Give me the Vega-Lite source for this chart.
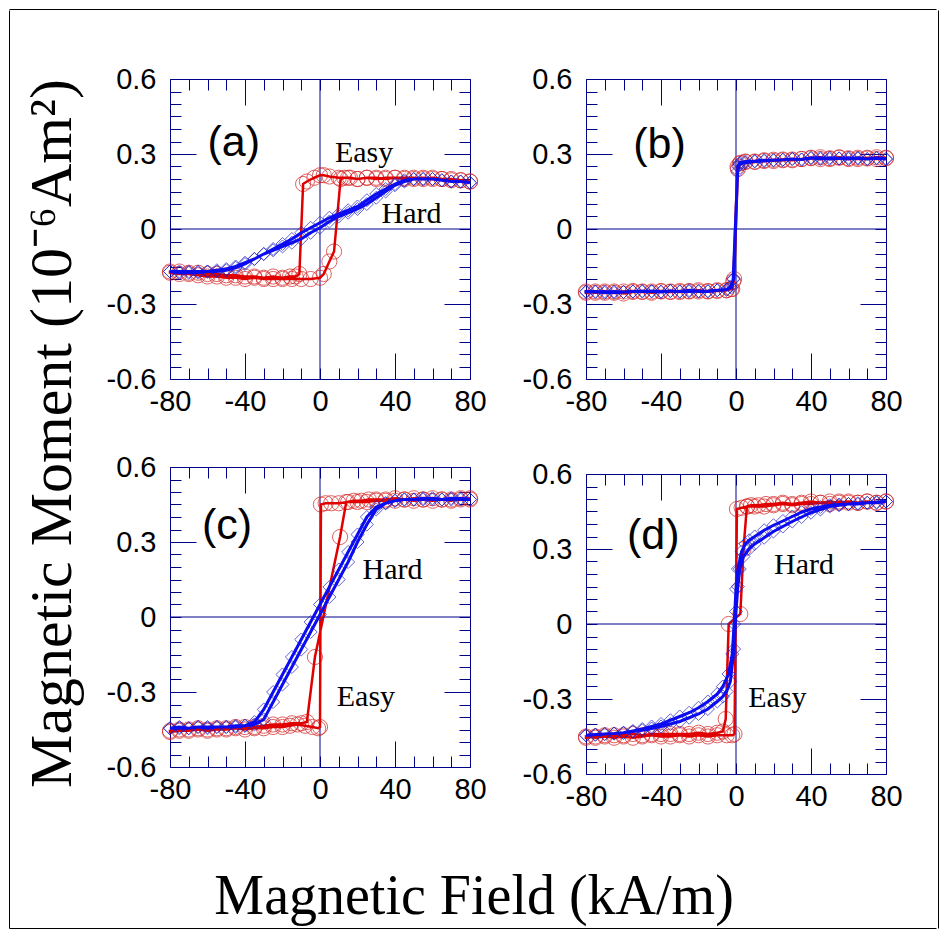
{
"$schema": "https://vega.github.io/schema/vega-lite/v6.json",
"background": "white",
"padding": {"left": 9, "top": 9, "right": 9, "bottom": 9},
"autosize": {"type": "pad"},
"config": {"view": {"stroke": "#000088", "strokeWidth": 1}, "axis": {"grid": false}},
"datasets": {
"pts": [
{"p":"a","s":"E","i":1,"H":80,"M":0.19},{"p":"a","s":"E","i":2,"H":75,"M":0.195},{"p":"a","s":"E","i":3,"H":70,"M":0.2},{"p":"a","s":"E","i":4,"H":65,"M":0.2},{"p":"a","s":"E","i":5,"H":60,"M":0.205},{"p":"a","s":"E","i":6,"H":55,"M":0.2},{"p":"a","s":"E","i":7,"H":50,"M":0.205},{"p":"a","s":"E","i":8,"H":45,"M":0.205},{"p":"a","s":"E","i":9,"H":40,"M":0.205},{"p":"a","s":"E","i":10,"H":35,"M":0.2},{"p":"a","s":"E","i":11,"H":30,"M":0.205},{"p":"a","s":"E","i":12,"H":25,"M":0.205},{"p":"a","s":"E","i":13,"H":20,"M":0.2},{"p":"a","s":"E","i":14,"H":15,"M":0.205},{"p":"a","s":"E","i":15,"H":10,"M":0.205},{"p":"a","s":"E","i":16,"H":5,"M":0.21},{"p":"a","s":"E","i":17,"H":2,"M":0.215},{"p":"a","s":"E","i":18,"H":0,"M":0.215},{"p":"a","s":"E","i":19,"H":-3,"M":0.205},{"p":"a","s":"E","i":20,"H":-7,"M":0.19},{"p":"a","s":"E","i":21,"H":-9,"M":0.18},{"p":"a","s":"E","i":22,"H":-11,"M":-0.18},{"p":"a","s":"E","i":23,"H":-13,"M":-0.19},{"p":"a","s":"E","i":24,"H":-16,"M":-0.19},{"p":"a","s":"E","i":25,"H":-20,"M":-0.195},{"p":"a","s":"E","i":26,"H":-25,"M":-0.19},{"p":"a","s":"E","i":27,"H":-30,"M":-0.195},{"p":"a","s":"E","i":28,"H":-35,"M":-0.19},{"p":"a","s":"E","i":29,"H":-40,"M":-0.19},{"p":"a","s":"E","i":30,"H":-45,"M":-0.185},{"p":"a","s":"E","i":31,"H":-50,"M":-0.185},{"p":"a","s":"E","i":32,"H":-55,"M":-0.18},{"p":"a","s":"E","i":33,"H":-60,"M":-0.18},{"p":"a","s":"E","i":34,"H":-65,"M":-0.175},{"p":"a","s":"E","i":35,"H":-70,"M":-0.175},{"p":"a","s":"E","i":36,"H":-75,"M":-0.17},{"p":"a","s":"E","i":37,"H":-80,"M":-0.17},
{"p":"a","s":"E","i":101,"H":-80,"M":-0.175},{"p":"a","s":"E","i":102,"H":-75,"M":-0.18},{"p":"a","s":"E","i":103,"H":-70,"M":-0.18},{"p":"a","s":"E","i":104,"H":-65,"M":-0.185},{"p":"a","s":"E","i":105,"H":-60,"M":-0.19},{"p":"a","s":"E","i":106,"H":-55,"M":-0.19},{"p":"a","s":"E","i":107,"H":-50,"M":-0.195},{"p":"a","s":"E","i":108,"H":-45,"M":-0.195},{"p":"a","s":"E","i":109,"H":-40,"M":-0.2},{"p":"a","s":"E","i":110,"H":-35,"M":-0.195},{"p":"a","s":"E","i":111,"H":-30,"M":-0.2},{"p":"a","s":"E","i":112,"H":-25,"M":-0.2},{"p":"a","s":"E","i":113,"H":-20,"M":-0.2},{"p":"a","s":"E","i":114,"H":-15,"M":-0.2},{"p":"a","s":"E","i":115,"H":-10,"M":-0.2},{"p":"a","s":"E","i":116,"H":-5,"M":-0.2},{"p":"a","s":"E","i":117,"H":0,"M":-0.195},{"p":"a","s":"E","i":118,"H":2,"M":-0.18},{"p":"a","s":"E","i":119,"H":5,"M":-0.13},{"p":"a","s":"E","i":120,"H":7.5,"M":-0.09},{"p":"a","s":"E","i":121,"H":11,"M":0.2},{"p":"a","s":"E","i":122,"H":13,"M":0.205},{"p":"a","s":"E","i":123,"H":16,"M":0.205},{"p":"a","s":"E","i":124,"H":20,"M":0.2},{"p":"a","s":"E","i":125,"H":25,"M":0.205},{"p":"a","s":"E","i":126,"H":30,"M":0.2},{"p":"a","s":"E","i":127,"H":35,"M":0.205},{"p":"a","s":"E","i":128,"H":40,"M":0.205},{"p":"a","s":"E","i":129,"H":45,"M":0.2},{"p":"a","s":"E","i":130,"H":50,"M":0.2},{"p":"a","s":"E","i":131,"H":55,"M":0.205},{"p":"a","s":"E","i":132,"H":60,"M":0.2},{"p":"a","s":"E","i":133,"H":65,"M":0.2},{"p":"a","s":"E","i":134,"H":70,"M":0.195},{"p":"a","s":"E","i":135,"H":75,"M":0.195},{"p":"a","s":"E","i":136,"H":80,"M":0.19},
{"p":"a","s":"R","i":1,"H":80,"M":0.185},{"p":"a","s":"R","i":2,"H":75,"M":0.19},{"p":"a","s":"R","i":3,"H":70,"M":0.19},{"p":"a","s":"R","i":4,"H":65,"M":0.195},{"p":"a","s":"R","i":5,"H":60,"M":0.2},{"p":"a","s":"R","i":6,"H":55,"M":0.2},{"p":"a","s":"R","i":7,"H":50,"M":0.2},{"p":"a","s":"R","i":8,"H":45,"M":0.195},{"p":"a","s":"R","i":9,"H":40,"M":0.18},{"p":"a","s":"R","i":10,"H":35,"M":0.16},{"p":"a","s":"R","i":11,"H":30,"M":0.14},{"p":"a","s":"R","i":12,"H":25,"M":0.115},{"p":"a","s":"R","i":13,"H":20,"M":0.09},{"p":"a","s":"R","i":14,"H":15,"M":0.075},{"p":"a","s":"R","i":15,"H":10,"M":0.06},{"p":"a","s":"R","i":16,"H":5,"M":0.045},{"p":"a","s":"R","i":17,"H":0,"M":0.025},{"p":"a","s":"R","i":18,"H":-5,"M":0.005},{"p":"a","s":"R","i":19,"H":-10,"M":-0.015},{"p":"a","s":"R","i":20,"H":-15,"M":-0.04},{"p":"a","s":"R","i":21,"H":-20,"M":-0.06},{"p":"a","s":"R","i":22,"H":-25,"M":-0.08},{"p":"a","s":"R","i":23,"H":-30,"M":-0.1},{"p":"a","s":"R","i":24,"H":-35,"M":-0.12},{"p":"a","s":"R","i":25,"H":-40,"M":-0.14},{"p":"a","s":"R","i":26,"H":-45,"M":-0.155},{"p":"a","s":"R","i":27,"H":-50,"M":-0.165},{"p":"a","s":"R","i":28,"H":-55,"M":-0.17},{"p":"a","s":"R","i":29,"H":-60,"M":-0.17},{"p":"a","s":"R","i":30,"H":-65,"M":-0.17},{"p":"a","s":"R","i":31,"H":-70,"M":-0.17},{"p":"a","s":"R","i":32,"H":-75,"M":-0.17},{"p":"a","s":"R","i":33,"H":-80,"M":-0.17},
{"p":"a","s":"R","i":101,"H":-80,"M":-0.17},{"p":"a","s":"R","i":102,"H":-75,"M":-0.175},{"p":"a","s":"R","i":103,"H":-70,"M":-0.175},{"p":"a","s":"R","i":104,"H":-65,"M":-0.175},{"p":"a","s":"R","i":105,"H":-60,"M":-0.17},{"p":"a","s":"R","i":106,"H":-55,"M":-0.165},{"p":"a","s":"R","i":107,"H":-50,"M":-0.16},{"p":"a","s":"R","i":108,"H":-45,"M":-0.15},{"p":"a","s":"R","i":109,"H":-40,"M":-0.135},{"p":"a","s":"R","i":110,"H":-35,"M":-0.12},{"p":"a","s":"R","i":111,"H":-30,"M":-0.1},{"p":"a","s":"R","i":112,"H":-25,"M":-0.085},{"p":"a","s":"R","i":113,"H":-20,"M":-0.07},{"p":"a","s":"R","i":114,"H":-15,"M":-0.055},{"p":"a","s":"R","i":115,"H":-10,"M":-0.04},{"p":"a","s":"R","i":116,"H":-5,"M":-0.015},{"p":"a","s":"R","i":117,"H":0,"M":0.005},{"p":"a","s":"R","i":118,"H":5,"M":0.03},{"p":"a","s":"R","i":119,"H":10,"M":0.05},{"p":"a","s":"R","i":120,"H":15,"M":0.065},{"p":"a","s":"R","i":121,"H":20,"M":0.08},{"p":"a","s":"R","i":122,"H":25,"M":0.1},{"p":"a","s":"R","i":123,"H":30,"M":0.125},{"p":"a","s":"R","i":124,"H":35,"M":0.15},{"p":"a","s":"R","i":125,"H":40,"M":0.175},{"p":"a","s":"R","i":126,"H":45,"M":0.19},{"p":"a","s":"R","i":127,"H":50,"M":0.2},{"p":"a","s":"R","i":128,"H":55,"M":0.2},{"p":"a","s":"R","i":129,"H":60,"M":0.2},{"p":"a","s":"R","i":130,"H":65,"M":0.195},{"p":"a","s":"R","i":131,"H":70,"M":0.19},{"p":"a","s":"R","i":132,"H":75,"M":0.19},{"p":"a","s":"R","i":133,"H":80,"M":0.185},
{"p":"b","s":"E","i":1,"H":80,"M":0.283},{"p":"b","s":"E","i":2,"H":75,"M":0.28},{"p":"b","s":"E","i":3,"H":70,"M":0.285},{"p":"b","s":"E","i":4,"H":65,"M":0.28},{"p":"b","s":"E","i":5,"H":60,"M":0.283},{"p":"b","s":"E","i":6,"H":55,"M":0.285},{"p":"b","s":"E","i":7,"H":50,"M":0.28},{"p":"b","s":"E","i":8,"H":45,"M":0.287},{"p":"b","s":"E","i":9,"H":40,"M":0.283},{"p":"b","s":"E","i":10,"H":35,"M":0.28},{"p":"b","s":"E","i":11,"H":30,"M":0.278},{"p":"b","s":"E","i":12,"H":25,"M":0.275},{"p":"b","s":"E","i":13,"H":20,"M":0.277},{"p":"b","s":"E","i":14,"H":15,"M":0.272},{"p":"b","s":"E","i":15,"H":10,"M":0.27},{"p":"b","s":"E","i":16,"H":5,"M":0.268},{"p":"b","s":"E","i":17,"H":2,"M":0.262},{"p":"b","s":"E","i":18,"H":0.8,"M":0.25},{"p":"b","s":"E","i":19,"H":-1.5,"M":-0.21},{"p":"b","s":"E","i":20,"H":-2.5,"M":-0.24},{"p":"b","s":"E","i":21,"H":-5,"M":-0.245},{"p":"b","s":"E","i":22,"H":-10,"M":-0.248},{"p":"b","s":"E","i":23,"H":-15,"M":-0.25},{"p":"b","s":"E","i":24,"H":-20,"M":-0.245},{"p":"b","s":"E","i":25,"H":-25,"M":-0.25},{"p":"b","s":"E","i":26,"H":-30,"M":-0.248},{"p":"b","s":"E","i":27,"H":-35,"M":-0.252},{"p":"b","s":"E","i":28,"H":-40,"M":-0.25},{"p":"b","s":"E","i":29,"H":-45,"M":-0.255},{"p":"b","s":"E","i":30,"H":-50,"M":-0.25},{"p":"b","s":"E","i":31,"H":-55,"M":-0.252},{"p":"b","s":"E","i":32,"H":-60,"M":-0.258},{"p":"b","s":"E","i":33,"H":-65,"M":-0.25},{"p":"b","s":"E","i":34,"H":-70,"M":-0.255},{"p":"b","s":"E","i":35,"H":-75,"M":-0.25},{"p":"b","s":"E","i":36,"H":-80,"M":-0.255},
{"p":"b","s":"E","i":101,"H":-80,"M":-0.25},{"p":"b","s":"E","i":102,"H":-75,"M":-0.255},{"p":"b","s":"E","i":103,"H":-70,"M":-0.25},{"p":"b","s":"E","i":104,"H":-65,"M":-0.255},{"p":"b","s":"E","i":105,"H":-60,"M":-0.25},{"p":"b","s":"E","i":106,"H":-55,"M":-0.248},{"p":"b","s":"E","i":107,"H":-50,"M":-0.252},{"p":"b","s":"E","i":108,"H":-45,"M":-0.25},{"p":"b","s":"E","i":109,"H":-40,"M":-0.248},{"p":"b","s":"E","i":110,"H":-35,"M":-0.25},{"p":"b","s":"E","i":111,"H":-30,"M":-0.252},{"p":"b","s":"E","i":112,"H":-25,"M":-0.248},{"p":"b","s":"E","i":113,"H":-20,"M":-0.25},{"p":"b","s":"E","i":114,"H":-15,"M":-0.248},{"p":"b","s":"E","i":115,"H":-10,"M":-0.245},{"p":"b","s":"E","i":116,"H":-5,"M":-0.245},{"p":"b","s":"E","i":117,"H":-2,"M":-0.24},{"p":"b","s":"E","i":118,"H":-1,"M":-0.2},{"p":"b","s":"E","i":119,"H":1,"M":0.24},{"p":"b","s":"E","i":120,"H":2.5,"M":0.265},{"p":"b","s":"E","i":121,"H":5,"M":0.27},{"p":"b","s":"E","i":122,"H":10,"M":0.268},{"p":"b","s":"E","i":123,"H":15,"M":0.275},{"p":"b","s":"E","i":124,"H":20,"M":0.272},{"p":"b","s":"E","i":125,"H":25,"M":0.278},{"p":"b","s":"E","i":126,"H":30,"M":0.275},{"p":"b","s":"E","i":127,"H":35,"M":0.28},{"p":"b","s":"E","i":128,"H":40,"M":0.285},{"p":"b","s":"E","i":129,"H":45,"M":0.28},{"p":"b","s":"E","i":130,"H":50,"M":0.283},{"p":"b","s":"E","i":131,"H":55,"M":0.287},{"p":"b","s":"E","i":132,"H":60,"M":0.28},{"p":"b","s":"E","i":133,"H":65,"M":0.285},{"p":"b","s":"E","i":134,"H":70,"M":0.282},{"p":"b","s":"E","i":135,"H":75,"M":0.287},{"p":"b","s":"E","i":136,"H":80,"M":0.285},
{"p":"b","s":"R","i":1,"H":80,"M":0.28},{"p":"b","s":"R","i":2,"H":75,"M":0.285},{"p":"b","s":"R","i":3,"H":70,"M":0.28},{"p":"b","s":"R","i":4,"H":65,"M":0.285},{"p":"b","s":"R","i":5,"H":60,"M":0.28},{"p":"b","s":"R","i":6,"H":55,"M":0.282},{"p":"b","s":"R","i":7,"H":50,"M":0.285},{"p":"b","s":"R","i":8,"H":45,"M":0.28},{"p":"b","s":"R","i":9,"H":40,"M":0.285},{"p":"b","s":"R","i":10,"H":35,"M":0.278},{"p":"b","s":"R","i":11,"H":30,"M":0.28},{"p":"b","s":"R","i":12,"H":25,"M":0.277},{"p":"b","s":"R","i":13,"H":20,"M":0.275},{"p":"b","s":"R","i":14,"H":15,"M":0.275},{"p":"b","s":"R","i":15,"H":10,"M":0.272},{"p":"b","s":"R","i":16,"H":5,"M":0.27},{"p":"b","s":"R","i":17,"H":2,"M":0.265},{"p":"b","s":"R","i":18,"H":1,"M":0.25},{"p":"b","s":"R","i":19,"H":-1.5,"M":-0.2},{"p":"b","s":"R","i":20,"H":-2.5,"M":-0.235},{"p":"b","s":"R","i":21,"H":-5,"M":-0.242},{"p":"b","s":"R","i":22,"H":-10,"M":-0.245},{"p":"b","s":"R","i":23,"H":-15,"M":-0.248},{"p":"b","s":"R","i":24,"H":-20,"M":-0.25},{"p":"b","s":"R","i":25,"H":-25,"M":-0.245},{"p":"b","s":"R","i":26,"H":-30,"M":-0.25},{"p":"b","s":"R","i":27,"H":-35,"M":-0.248},{"p":"b","s":"R","i":28,"H":-40,"M":-0.252},{"p":"b","s":"R","i":29,"H":-45,"M":-0.25},{"p":"b","s":"R","i":30,"H":-50,"M":-0.248},{"p":"b","s":"R","i":31,"H":-55,"M":-0.25},{"p":"b","s":"R","i":32,"H":-60,"M":-0.252},{"p":"b","s":"R","i":33,"H":-65,"M":-0.255},{"p":"b","s":"R","i":34,"H":-70,"M":-0.25},{"p":"b","s":"R","i":35,"H":-75,"M":-0.252},{"p":"b","s":"R","i":36,"H":-80,"M":-0.25},
{"p":"b","s":"R","i":101,"H":-80,"M":-0.252},{"p":"b","s":"R","i":102,"H":-75,"M":-0.25},{"p":"b","s":"R","i":103,"H":-70,"M":-0.255},{"p":"b","s":"R","i":104,"H":-65,"M":-0.25},{"p":"b","s":"R","i":105,"H":-60,"M":-0.252},{"p":"b","s":"R","i":106,"H":-55,"M":-0.25},{"p":"b","s":"R","i":107,"H":-50,"M":-0.25},{"p":"b","s":"R","i":108,"H":-45,"M":-0.248},{"p":"b","s":"R","i":109,"H":-40,"M":-0.25},{"p":"b","s":"R","i":110,"H":-35,"M":-0.248},{"p":"b","s":"R","i":111,"H":-30,"M":-0.25},{"p":"b","s":"R","i":112,"H":-25,"M":-0.25},{"p":"b","s":"R","i":113,"H":-20,"M":-0.248},{"p":"b","s":"R","i":114,"H":-15,"M":-0.25},{"p":"b","s":"R","i":115,"H":-10,"M":-0.245},{"p":"b","s":"R","i":116,"H":-5,"M":-0.243},{"p":"b","s":"R","i":117,"H":-3,"M":-0.23},{"p":"b","s":"R","i":118,"H":-1.2,"M":-0.2},{"p":"b","s":"R","i":119,"H":0.8,"M":0.23},{"p":"b","s":"R","i":120,"H":2,"M":0.26},{"p":"b","s":"R","i":121,"H":5,"M":0.265},{"p":"b","s":"R","i":122,"H":10,"M":0.27},{"p":"b","s":"R","i":123,"H":15,"M":0.272},{"p":"b","s":"R","i":124,"H":20,"M":0.275},{"p":"b","s":"R","i":125,"H":25,"M":0.277},{"p":"b","s":"R","i":126,"H":30,"M":0.28},{"p":"b","s":"R","i":127,"H":35,"M":0.278},{"p":"b","s":"R","i":128,"H":40,"M":0.283},{"p":"b","s":"R","i":129,"H":45,"M":0.285},{"p":"b","s":"R","i":130,"H":50,"M":0.28},{"p":"b","s":"R","i":131,"H":55,"M":0.283},{"p":"b","s":"R","i":132,"H":60,"M":0.285},{"p":"b","s":"R","i":133,"H":65,"M":0.282},{"p":"b","s":"R","i":134,"H":70,"M":0.28},{"p":"b","s":"R","i":135,"H":75,"M":0.283},{"p":"b","s":"R","i":136,"H":80,"M":0.28},
{"p":"c","s":"E","i":1,"H":80,"M":0.47},{"p":"c","s":"E","i":2,"H":75,"M":0.475},{"p":"c","s":"E","i":3,"H":70,"M":0.465},{"p":"c","s":"E","i":4,"H":65,"M":0.47},{"p":"c","s":"E","i":5,"H":60,"M":0.465},{"p":"c","s":"E","i":6,"H":55,"M":0.47},{"p":"c","s":"E","i":7,"H":50,"M":0.465},{"p":"c","s":"E","i":8,"H":45,"M":0.47},{"p":"c","s":"E","i":9,"H":40,"M":0.465},{"p":"c","s":"E","i":10,"H":35,"M":0.465},{"p":"c","s":"E","i":11,"H":30,"M":0.465},{"p":"c","s":"E","i":12,"H":25,"M":0.46},{"p":"c","s":"E","i":13,"H":20,"M":0.46},{"p":"c","s":"E","i":14,"H":15,"M":0.46},{"p":"c","s":"E","i":15,"H":10,"M":0.455},{"p":"c","s":"E","i":16,"H":6,"M":0.455},{"p":"c","s":"E","i":17,"H":3,"M":0.455},{"p":"c","s":"E","i":18,"H":0.5,"M":0.45},{"p":"c","s":"E","i":19,"H":0,"M":-0.44},{"p":"c","s":"E","i":20,"H":-1,"M":-0.445},{"p":"c","s":"E","i":21,"H":-4,"M":-0.44},{"p":"c","s":"E","i":22,"H":-8,"M":-0.435},{"p":"c","s":"E","i":23,"H":-12,"M":-0.43},{"p":"c","s":"E","i":24,"H":-16,"M":-0.435},{"p":"c","s":"E","i":25,"H":-20,"M":-0.44},{"p":"c","s":"E","i":26,"H":-25,"M":-0.44},{"p":"c","s":"E","i":27,"H":-30,"M":-0.445},{"p":"c","s":"E","i":28,"H":-35,"M":-0.445},{"p":"c","s":"E","i":29,"H":-40,"M":-0.45},{"p":"c","s":"E","i":30,"H":-45,"M":-0.445},{"p":"c","s":"E","i":31,"H":-50,"M":-0.45},{"p":"c","s":"E","i":32,"H":-55,"M":-0.45},{"p":"c","s":"E","i":33,"H":-60,"M":-0.455},{"p":"c","s":"E","i":34,"H":-65,"M":-0.45},{"p":"c","s":"E","i":35,"H":-70,"M":-0.455},{"p":"c","s":"E","i":36,"H":-75,"M":-0.455},{"p":"c","s":"E","i":37,"H":-80,"M":-0.46},
{"p":"c","s":"E","i":101,"H":-80,"M":-0.455},{"p":"c","s":"E","i":102,"H":-75,"M":-0.45},{"p":"c","s":"E","i":103,"H":-70,"M":-0.45},{"p":"c","s":"E","i":104,"H":-65,"M":-0.445},{"p":"c","s":"E","i":105,"H":-60,"M":-0.45},{"p":"c","s":"E","i":106,"H":-55,"M":-0.445},{"p":"c","s":"E","i":107,"H":-50,"M":-0.445},{"p":"c","s":"E","i":108,"H":-45,"M":-0.44},{"p":"c","s":"E","i":109,"H":-40,"M":-0.44},{"p":"c","s":"E","i":110,"H":-35,"M":-0.44},{"p":"c","s":"E","i":111,"H":-30,"M":-0.435},{"p":"c","s":"E","i":112,"H":-25,"M":-0.43},{"p":"c","s":"E","i":113,"H":-20,"M":-0.43},{"p":"c","s":"E","i":114,"H":-15,"M":-0.425},{"p":"c","s":"E","i":115,"H":-10,"M":-0.425},{"p":"c","s":"E","i":116,"H":-7,"M":-0.42},{"p":"c","s":"E","i":117,"H":-2.7,"M":-0.16},{"p":"c","s":"E","i":118,"H":10.7,"M":0.32},{"p":"c","s":"E","i":119,"H":14,"M":0.46},{"p":"c","s":"E","i":120,"H":18,"M":0.465},{"p":"c","s":"E","i":121,"H":22,"M":0.465},{"p":"c","s":"E","i":122,"H":26,"M":0.47},{"p":"c","s":"E","i":123,"H":30,"M":0.47},{"p":"c","s":"E","i":124,"H":35,"M":0.47},{"p":"c","s":"E","i":125,"H":40,"M":0.475},{"p":"c","s":"E","i":126,"H":45,"M":0.47},{"p":"c","s":"E","i":127,"H":50,"M":0.475},{"p":"c","s":"E","i":128,"H":55,"M":0.47},{"p":"c","s":"E","i":129,"H":60,"M":0.475},{"p":"c","s":"E","i":130,"H":65,"M":0.47},{"p":"c","s":"E","i":131,"H":70,"M":0.47},{"p":"c","s":"E","i":132,"H":75,"M":0.47},{"p":"c","s":"E","i":133,"H":80,"M":0.475},
{"p":"c","s":"R","i":1,"H":80,"M":0.47},{"p":"c","s":"R","i":2,"H":75,"M":0.475},{"p":"c","s":"R","i":3,"H":70,"M":0.47},{"p":"c","s":"R","i":4,"H":65,"M":0.47},{"p":"c","s":"R","i":5,"H":60,"M":0.475},{"p":"c","s":"R","i":6,"H":55,"M":0.47},{"p":"c","s":"R","i":7,"H":50,"M":0.47},{"p":"c","s":"R","i":8,"H":45,"M":0.47},{"p":"c","s":"R","i":9,"H":40,"M":0.465},{"p":"c","s":"R","i":10,"H":35,"M":0.455},{"p":"c","s":"R","i":11,"H":30,"M":0.44},{"p":"c","s":"R","i":12,"H":25,"M":0.4},{"p":"c","s":"R","i":13,"H":20,"M":0.33},{"p":"c","s":"R","i":14,"H":15,"M":0.26},{"p":"c","s":"R","i":15,"H":10,"M":0.19},{"p":"c","s":"R","i":16,"H":5,"M":0.12},{"p":"c","s":"R","i":17,"H":0,"M":0.05},{"p":"c","s":"R","i":18,"H":-5,"M":-0.02},{"p":"c","s":"R","i":19,"H":-10,"M":-0.09},{"p":"c","s":"R","i":20,"H":-15,"M":-0.16},{"p":"c","s":"R","i":21,"H":-20,"M":-0.23},{"p":"c","s":"R","i":22,"H":-25,"M":-0.3},{"p":"c","s":"R","i":23,"H":-30,"M":-0.37},{"p":"c","s":"R","i":24,"H":-35,"M":-0.42},{"p":"c","s":"R","i":25,"H":-40,"M":-0.435},{"p":"c","s":"R","i":26,"H":-45,"M":-0.44},{"p":"c","s":"R","i":27,"H":-50,"M":-0.44},{"p":"c","s":"R","i":28,"H":-55,"M":-0.44},{"p":"c","s":"R","i":29,"H":-60,"M":-0.445},{"p":"c","s":"R","i":30,"H":-65,"M":-0.44},{"p":"c","s":"R","i":31,"H":-70,"M":-0.445},{"p":"c","s":"R","i":32,"H":-75,"M":-0.445},{"p":"c","s":"R","i":33,"H":-80,"M":-0.445},
{"p":"c","s":"R","i":101,"H":-80,"M":-0.445},{"p":"c","s":"R","i":102,"H":-75,"M":-0.44},{"p":"c","s":"R","i":103,"H":-70,"M":-0.445},{"p":"c","s":"R","i":104,"H":-65,"M":-0.44},{"p":"c","s":"R","i":105,"H":-60,"M":-0.44},{"p":"c","s":"R","i":106,"H":-55,"M":-0.44},{"p":"c","s":"R","i":107,"H":-50,"M":-0.44},{"p":"c","s":"R","i":108,"H":-45,"M":-0.435},{"p":"c","s":"R","i":109,"H":-40,"M":-0.435},{"p":"c","s":"R","i":110,"H":-35,"M":-0.43},{"p":"c","s":"R","i":111,"H":-30,"M":-0.41},{"p":"c","s":"R","i":112,"H":-25,"M":-0.34},{"p":"c","s":"R","i":113,"H":-20,"M":-0.27},{"p":"c","s":"R","i":114,"H":-15,"M":-0.2},{"p":"c","s":"R","i":115,"H":-10,"M":-0.13},{"p":"c","s":"R","i":116,"H":-5,"M":-0.06},{"p":"c","s":"R","i":117,"H":0,"M":0.01},{"p":"c","s":"R","i":118,"H":5,"M":0.08},{"p":"c","s":"R","i":119,"H":10,"M":0.15},{"p":"c","s":"R","i":120,"H":15,"M":0.22},{"p":"c","s":"R","i":121,"H":20,"M":0.3},{"p":"c","s":"R","i":122,"H":25,"M":0.37},{"p":"c","s":"R","i":123,"H":30,"M":0.43},{"p":"c","s":"R","i":124,"H":35,"M":0.455},{"p":"c","s":"R","i":125,"H":40,"M":0.465},{"p":"c","s":"R","i":126,"H":45,"M":0.47},{"p":"c","s":"R","i":127,"H":50,"M":0.47},{"p":"c","s":"R","i":128,"H":55,"M":0.475},{"p":"c","s":"R","i":129,"H":60,"M":0.47},{"p":"c","s":"R","i":130,"H":65,"M":0.47},{"p":"c","s":"R","i":131,"H":70,"M":0.475},{"p":"c","s":"R","i":132,"H":75,"M":0.47},{"p":"c","s":"R","i":133,"H":80,"M":0.47},
{"p":"d","s":"E","i":1,"H":80,"M":0.49},{"p":"d","s":"E","i":2,"H":75,"M":0.485},{"p":"d","s":"E","i":3,"H":70,"M":0.49},{"p":"d","s":"E","i":4,"H":65,"M":0.485},{"p":"d","s":"E","i":5,"H":60,"M":0.485},{"p":"d","s":"E","i":6,"H":55,"M":0.49},{"p":"d","s":"E","i":7,"H":50,"M":0.48},{"p":"d","s":"E","i":8,"H":45,"M":0.485},{"p":"d","s":"E","i":9,"H":40,"M":0.48},{"p":"d","s":"E","i":10,"H":35,"M":0.48},{"p":"d","s":"E","i":11,"H":30,"M":0.475},{"p":"d","s":"E","i":12,"H":25,"M":0.48},{"p":"d","s":"E","i":13,"H":20,"M":0.475},{"p":"d","s":"E","i":14,"H":15,"M":0.47},{"p":"d","s":"E","i":15,"H":10,"M":0.47},{"p":"d","s":"E","i":16,"H":6,"M":0.47},{"p":"d","s":"E","i":17,"H":3,"M":0.465},{"p":"d","s":"E","i":18,"H":0.5,"M":0.46},{"p":"d","s":"E","i":19,"H":-0.8,"M":-0.44},{"p":"d","s":"E","i":20,"H":-2,"M":-0.445},{"p":"d","s":"E","i":21,"H":-5,"M":-0.445},{"p":"d","s":"E","i":22,"H":-10,"M":-0.445},{"p":"d","s":"E","i":23,"H":-15,"M":-0.45},{"p":"d","s":"E","i":24,"H":-20,"M":-0.445},{"p":"d","s":"E","i":25,"H":-25,"M":-0.45},{"p":"d","s":"E","i":26,"H":-30,"M":-0.445},{"p":"d","s":"E","i":27,"H":-35,"M":-0.45},{"p":"d","s":"E","i":28,"H":-40,"M":-0.45},{"p":"d","s":"E","i":29,"H":-45,"M":-0.445},{"p":"d","s":"E","i":30,"H":-50,"M":-0.45},{"p":"d","s":"E","i":31,"H":-55,"M":-0.455},{"p":"d","s":"E","i":32,"H":-60,"M":-0.45},{"p":"d","s":"E","i":33,"H":-65,"M":-0.455},{"p":"d","s":"E","i":34,"H":-70,"M":-0.45},{"p":"d","s":"E","i":35,"H":-75,"M":-0.455},{"p":"d","s":"E","i":36,"H":-80,"M":-0.45},
{"p":"d","s":"E","i":101,"H":-80,"M":-0.455},{"p":"d","s":"E","i":102,"H":-75,"M":-0.45},{"p":"d","s":"E","i":103,"H":-70,"M":-0.445},{"p":"d","s":"E","i":104,"H":-65,"M":-0.445},{"p":"d","s":"E","i":105,"H":-60,"M":-0.445},{"p":"d","s":"E","i":106,"H":-55,"M":-0.44},{"p":"d","s":"E","i":107,"H":-50,"M":-0.445},{"p":"d","s":"E","i":108,"H":-45,"M":-0.44},{"p":"d","s":"E","i":109,"H":-40,"M":-0.44},{"p":"d","s":"E","i":110,"H":-35,"M":-0.44},{"p":"d","s":"E","i":111,"H":-30,"M":-0.44},{"p":"d","s":"E","i":112,"H":-25,"M":-0.44},{"p":"d","s":"E","i":113,"H":-20,"M":-0.435},{"p":"d","s":"E","i":114,"H":-15,"M":-0.44},{"p":"d","s":"E","i":115,"H":-10,"M":-0.435},{"p":"d","s":"E","i":116,"H":-7,"M":-0.43},{"p":"d","s":"E","i":117,"H":-5.5,"M":-0.38},{"p":"d","s":"E","i":118,"H":-3.9,"M":0.0},{"p":"d","s":"E","i":119,"H":2.3,"M":0.04},{"p":"d","s":"E","i":120,"H":4,"M":0.3},{"p":"d","s":"E","i":121,"H":5.8,"M":0.47},{"p":"d","s":"E","i":122,"H":8,"M":0.475},{"p":"d","s":"E","i":123,"H":12,"M":0.475},{"p":"d","s":"E","i":124,"H":16,"M":0.48},{"p":"d","s":"E","i":125,"H":20,"M":0.48},{"p":"d","s":"E","i":126,"H":25,"M":0.485},{"p":"d","s":"E","i":127,"H":30,"M":0.48},{"p":"d","s":"E","i":128,"H":35,"M":0.485},{"p":"d","s":"E","i":129,"H":40,"M":0.49},{"p":"d","s":"E","i":130,"H":45,"M":0.485},{"p":"d","s":"E","i":131,"H":50,"M":0.49},{"p":"d","s":"E","i":132,"H":55,"M":0.485},{"p":"d","s":"E","i":133,"H":60,"M":0.49},{"p":"d","s":"E","i":134,"H":65,"M":0.485},{"p":"d","s":"E","i":135,"H":70,"M":0.49},{"p":"d","s":"E","i":136,"H":75,"M":0.485},{"p":"d","s":"E","i":137,"H":80,"M":0.49},
{"p":"d","s":"R","i":1,"H":80,"M":0.49},{"p":"d","s":"R","i":2,"H":75,"M":0.485},{"p":"d","s":"R","i":3,"H":70,"M":0.485},{"p":"d","s":"R","i":4,"H":65,"M":0.48},{"p":"d","s":"R","i":5,"H":60,"M":0.48},{"p":"d","s":"R","i":6,"H":55,"M":0.478},{"p":"d","s":"R","i":7,"H":50,"M":0.475},{"p":"d","s":"R","i":8,"H":45,"M":0.468},{"p":"d","s":"R","i":9,"H":40,"M":0.46},{"p":"d","s":"R","i":10,"H":35,"M":0.447},{"p":"d","s":"R","i":11,"H":30,"M":0.43},{"p":"d","s":"R","i":12,"H":25,"M":0.412},{"p":"d","s":"R","i":13,"H":20,"M":0.395},{"p":"d","s":"R","i":14,"H":15,"M":0.375},{"p":"d","s":"R","i":15,"H":10,"M":0.35},{"p":"d","s":"R","i":16,"H":7,"M":0.335},{"p":"d","s":"R","i":17,"H":5,"M":0.32},{"p":"d","s":"R","i":18,"H":3,"M":0.29},{"p":"d","s":"R","i":19,"H":1,"M":0.22},{"p":"d","s":"R","i":20,"H":0,"M":0.14},{"p":"d","s":"R","i":21,"H":-1,"M":0.0},{"p":"d","s":"R","i":22,"H":-2,"M":-0.12},{"p":"d","s":"R","i":23,"H":-4,"M":-0.2},{"p":"d","s":"R","i":24,"H":-7,"M":-0.25},{"p":"d","s":"R","i":25,"H":-10,"M":-0.28},{"p":"d","s":"R","i":26,"H":-15,"M":-0.31},{"p":"d","s":"R","i":27,"H":-20,"M":-0.335},{"p":"d","s":"R","i":28,"H":-25,"M":-0.355},{"p":"d","s":"R","i":29,"H":-30,"M":-0.37},{"p":"d","s":"R","i":30,"H":-35,"M":-0.385},{"p":"d","s":"R","i":31,"H":-40,"M":-0.4},{"p":"d","s":"R","i":32,"H":-45,"M":-0.41},{"p":"d","s":"R","i":33,"H":-50,"M":-0.42},{"p":"d","s":"R","i":34,"H":-55,"M":-0.428},{"p":"d","s":"R","i":35,"H":-60,"M":-0.435},{"p":"d","s":"R","i":36,"H":-65,"M":-0.438},{"p":"d","s":"R","i":37,"H":-70,"M":-0.44},{"p":"d","s":"R","i":38,"H":-75,"M":-0.442},{"p":"d","s":"R","i":39,"H":-80,"M":-0.445},
{"p":"d","s":"R","i":101,"H":-80,"M":-0.445},{"p":"d","s":"R","i":102,"H":-75,"M":-0.443},{"p":"d","s":"R","i":103,"H":-70,"M":-0.44},{"p":"d","s":"R","i":104,"H":-65,"M":-0.438},{"p":"d","s":"R","i":105,"H":-60,"M":-0.435},{"p":"d","s":"R","i":106,"H":-55,"M":-0.43},{"p":"d","s":"R","i":107,"H":-50,"M":-0.425},{"p":"d","s":"R","i":108,"H":-45,"M":-0.418},{"p":"d","s":"R","i":109,"H":-40,"M":-0.41},{"p":"d","s":"R","i":110,"H":-35,"M":-0.4},{"p":"d","s":"R","i":111,"H":-30,"M":-0.39},{"p":"d","s":"R","i":112,"H":-25,"M":-0.375},{"p":"d","s":"R","i":113,"H":-20,"M":-0.36},{"p":"d","s":"R","i":114,"H":-15,"M":-0.34},{"p":"d","s":"R","i":115,"H":-10,"M":-0.31},{"p":"d","s":"R","i":116,"H":-7,"M":-0.29},{"p":"d","s":"R","i":117,"H":-5,"M":-0.27},{"p":"d","s":"R","i":118,"H":-3,"M":-0.23},{"p":"d","s":"R","i":119,"H":-1,"M":-0.1},{"p":"d","s":"R","i":120,"H":0,"M":0.05},{"p":"d","s":"R","i":121,"H":1,"M":0.15},{"p":"d","s":"R","i":122,"H":2,"M":0.22},{"p":"d","s":"R","i":123,"H":4,"M":0.27},{"p":"d","s":"R","i":124,"H":7,"M":0.3},{"p":"d","s":"R","i":125,"H":10,"M":0.32},{"p":"d","s":"R","i":126,"H":15,"M":0.345},{"p":"d","s":"R","i":127,"H":20,"M":0.37},{"p":"d","s":"R","i":128,"H":25,"M":0.39},{"p":"d","s":"R","i":129,"H":30,"M":0.41},{"p":"d","s":"R","i":130,"H":35,"M":0.428},{"p":"d","s":"R","i":131,"H":40,"M":0.445},{"p":"d","s":"R","i":132,"H":45,"M":0.458},{"p":"d","s":"R","i":133,"H":50,"M":0.47},{"p":"d","s":"R","i":134,"H":55,"M":0.475},{"p":"d","s":"R","i":135,"H":60,"M":0.48},{"p":"d","s":"R","i":136,"H":65,"M":0.483},{"p":"d","s":"R","i":137,"H":70,"M":0.485},{"p":"d","s":"R","i":138,"H":75,"M":0.488},{"p":"d","s":"R","i":139,"H":80,"M":0.49},
{"p":"a","s":"L","i":0,"H":-46,"M":0.346,"t":"(a)"},{"p":"a","s":"W","i":0,"H":23.5,"M":0.305,"t":"Easy"},{"p":"a","s":"W","i":0,"H":48.8,"M":0.061,"t":"Hard"},
{"p":"b","s":"L","i":0,"H":-40.8,"M":0.336,"t":"(b)"},
{"p":"c","s":"L","i":0,"H":-49.6,"M":0.364,"t":"(c)"},{"p":"c","s":"W","i":0,"H":38.7,"M":0.19,"t":"Hard"},{"p":"c","s":"W","i":0,"H":24.5,"M":-0.32,"t":"Easy"},
{"p":"d","s":"L","i":0,"H":-44.1,"M":0.352,"t":"(d)"},{"p":"d","s":"W","i":0,"H":36.3,"M":0.236,"t":"Hard"},{"p":"d","s":"W","i":0,"H":22.1,"M":-0.296,"t":"Easy"}
]
},
"spacing": 0,
"vconcat": [
{
 "width": 927, "height": 1,
 "view": {"stroke": null},
 "data": {"values": [{"u": 0.5}]},
 "mark": {"type": "point", "opacity": 0, "size": 0},
 "encoding": {"x": {"field": "u", "type": "quantitative", "scale": {"domain": [0, 1]}, "axis": {"orient": "top", "domain": true, "domainColor": "black", "domainWidth": 1, "ticks": false, "labels": false, "title": null}}}
},
{
 "spacing": 0,
 "hconcat": [
  {
   "width": 96, "height": 918,
   "view": {"stroke": null},
   "data": {"values": [{"v": 0.5}]},
   "mark": {"type": "point", "opacity": 0, "size": 0},
   "encoding": {"y": {"field": "v", "type": "quantitative", "scale": {"domain": [0, 1]}, "axis": {"orient": "left", "domain": true, "domainColor": "black", "domainWidth": 1, "ticks": false, "labels": false, "title": "Magnetic Moment (10⁻⁶Am²)", "titleFont": "Liberation Serif", "titleFontSize": 60, "titleFontWeight": "normal", "titleColor": "black", "titleBaseline": "alphabetic", "titleAlign": "center", "titleAngle": 270, "titleX": 61, "titleY": 423}}}
  },
  {
   "spacing": 0,
   "title": {"text": "Magnetic Field (kA/m)", "orient": "bottom", "anchor": "middle", "font": "Liberation Serif", "fontSize": 56, "fontWeight": "normal", "color": "black", "baseline": "alphabetic", "offset": 102, "dx": -30},
   "vconcat": [
    {"width": 1, "height": 53.5, "view": {"stroke": null}, "data": {"values": [{"u": 0}]}, "mark": {"type": "point", "opacity": 0, "size": 0}, "encoding": {}},
    {
     "spacing": 34,
     "hconcat": [
      {"spacing": 35, "vconcat": [
       {"width": 300, "height": 300, "data": {"name": "pts"}, "transform": [{"filter": "datum.p == 'a'"}],
        "layer": [
         {"transform": [{"filter": "datum.s == 'E' && datum.i == 1"}], "mark": {"type": "rule", "color": "#000088", "strokeWidth": 1}, "encoding": {"x": {"datum": 0, "type": "quantitative", "axis": null}}},
         {"transform": [{"filter": "datum.s == 'E' && datum.i == 1"}], "mark": {"type": "rule", "color": "#000088", "strokeWidth": 1}, "encoding": {"y": {"datum": 0, "type": "quantitative", "axis": null}}},
         {"transform": [{"filter": "datum.s == 'E'"}], "mark": {"type": "point", "shape": "circle", "filled": false, "size": 230, "color": "#d42020", "strokeWidth": 1},
          "encoding": {"x": {"field": "H", "type": "quantitative", "scale": {"domain": [-80, 80], "nice": false}, "axis": {"orient": "bottom", "values": [-80, -40, 0, 40, 80], "ticks": false, "domain": false, "labelFont": "Liberation Sans", "labelFontSize": 29, "labelColor": "black", "labelPadding": 8, "labelFlush": false, "labelOverlap": false, "labelExpr": "(datum.value < 0 ? '-' : '') + abs(datum.value)", "title": null}},
                       "y": {"field": "M", "type": "quantitative", "scale": {"domain": [-0.6, 0.6], "nice": false, "zero": false}, "axis": {"orient": "left", "values": [-0.6, -0.3, 0, 0.3, 0.6], "ticks": false, "domain": false, "labelFont": "Liberation Sans", "labelFontSize": 29, "labelColor": "black", "labelPadding": 14, "labelFlush": false, "labelOverlap": false, "labelExpr": "datum.value == 0 ? '0' : (datum.value < 0 ? '-' : '') + format(abs(datum.value), '.1f')", "title": null}}}},
         {"transform": [{"filter": "datum.s == 'E'"}], "mark": {"type": "line", "color": "#e00000", "strokeWidth": 2.5},
          "encoding": {"x": {"field": "H", "type": "quantitative", "axis": {"orient": "bottom", "values": [-80, -70, -60, -50, -40, -30, -20, -10, 0, 10, 20, 30, 40, 50, 60, 70, 80], "labels": false, "domain": false, "tickColor": "#000088", "tickWidth": 1, "tickSize": {"condition": {"test": "abs(datum.value) == 40", "value": -26}, "value": -11}, "title": null}},
                       "y": {"field": "M", "type": "quantitative", "axis": {"orient": "left", "values": [-0.6, -0.55, -0.5, -0.45, -0.4, -0.35, -0.3, -0.25, -0.2, -0.15, -0.1, -0.05, 0, 0.05, 0.1, 0.15, 0.2, 0.25, 0.3, 0.35, 0.4, 0.45, 0.5, 0.55, 0.6], "labels": false, "domain": false, "tickColor": "#000088", "tickWidth": 1, "tickSize": {"condition": {"test": "abs(abs(datum.value) - 0.3) < 0.01", "value": -26}, "value": -11}, "title": null}},
                       "order": {"field": "i", "type": "quantitative"}}},
         {"transform": [{"filter": "datum.s == 'R'"}], "mark": {"type": "point", "shape": "diamond", "filled": false, "size": 170, "color": "#2020c8", "strokeWidth": 1},
          "encoding": {"x": {"field": "H", "type": "quantitative", "axis": null}, "y": {"field": "M", "type": "quantitative", "axis": null}}},
         {"transform": [{"filter": "datum.s == 'R'"}], "mark": {"type": "line", "color": "#0c0cf0", "strokeWidth": 3},
          "encoding": {"x": {"field": "H", "type": "quantitative", "axis": {"orient": "top", "values": [-80, -70, -60, -50, -40, -30, -20, -10, 0, 10, 20, 30, 40, 50, 60, 70, 80], "labels": false, "domain": false, "tickColor": "#000088", "tickWidth": 1, "tickSize": {"condition": {"test": "abs(datum.value) == 40", "value": -26}, "value": -11}, "title": null}},
                       "y": {"field": "M", "type": "quantitative", "axis": {"orient": "right", "values": [-0.6, -0.55, -0.5, -0.45, -0.4, -0.35, -0.3, -0.25, -0.2, -0.15, -0.1, -0.05, 0, 0.05, 0.1, 0.15, 0.2, 0.25, 0.3, 0.35, 0.4, 0.45, 0.5, 0.55, 0.6], "labels": false, "domain": false, "tickColor": "#000088", "tickWidth": 1, "tickSize": {"condition": {"test": "abs(abs(datum.value) - 0.3) < 0.01", "value": -26}, "value": -11}, "title": null}},
                       "order": {"field": "i", "type": "quantitative"}}},
         {"transform": [{"filter": "datum.s == 'L'"}], "mark": {"type": "text", "font": "Liberation Sans", "fontSize": 43, "color": "black", "align": "center", "baseline": "middle"},
          "encoding": {"x": {"field": "H", "type": "quantitative", "axis": null}, "y": {"field": "M", "type": "quantitative", "axis": null}, "text": {"field": "t"}}},
         {"transform": [{"filter": "datum.s == 'W'"}], "mark": {"type": "text", "font": "Liberation Serif", "fontSize": 30, "color": "black", "align": "center", "baseline": "middle"},
          "encoding": {"x": {"field": "H", "type": "quantitative", "axis": null}, "y": {"field": "M", "type": "quantitative", "axis": null}, "text": {"field": "t"}}}
        ],
        "resolve": {"axis": {"x": "independent", "y": "independent"}}
       },
       {"width": 300, "height": 300, "data": {"name": "pts"}, "transform": [{"filter": "datum.p == 'c'"}],
        "layer": [
         {"transform": [{"filter": "datum.s == 'E' && datum.i == 1"}], "mark": {"type": "rule", "color": "#000088", "strokeWidth": 1}, "encoding": {"x": {"datum": 0, "type": "quantitative", "axis": null}}},
         {"transform": [{"filter": "datum.s == 'E' && datum.i == 1"}], "mark": {"type": "rule", "color": "#000088", "strokeWidth": 1}, "encoding": {"y": {"datum": 0, "type": "quantitative", "axis": null}}},
         {"transform": [{"filter": "datum.s == 'E'"}], "mark": {"type": "point", "shape": "circle", "filled": false, "size": 230, "color": "#d42020", "strokeWidth": 1},
          "encoding": {"x": {"field": "H", "type": "quantitative", "scale": {"domain": [-80, 80], "nice": false}, "axis": {"orient": "bottom", "values": [-80, -40, 0, 40, 80], "ticks": false, "domain": false, "labelFont": "Liberation Sans", "labelFontSize": 29, "labelColor": "black", "labelPadding": 8, "labelFlush": false, "labelOverlap": false, "labelExpr": "(datum.value < 0 ? '-' : '') + abs(datum.value)", "title": null}},
                       "y": {"field": "M", "type": "quantitative", "scale": {"domain": [-0.6, 0.6], "nice": false, "zero": false}, "axis": {"orient": "left", "values": [-0.6, -0.3, 0, 0.3, 0.6], "ticks": false, "domain": false, "labelFont": "Liberation Sans", "labelFontSize": 29, "labelColor": "black", "labelPadding": 14, "labelFlush": false, "labelOverlap": false, "labelExpr": "datum.value == 0 ? '0' : (datum.value < 0 ? '-' : '') + format(abs(datum.value), '.1f')", "title": null}}}},
         {"transform": [{"filter": "datum.s == 'E'"}], "mark": {"type": "line", "color": "#e00000", "strokeWidth": 2.5},
          "encoding": {"x": {"field": "H", "type": "quantitative", "axis": {"orient": "bottom", "values": [-80, -70, -60, -50, -40, -30, -20, -10, 0, 10, 20, 30, 40, 50, 60, 70, 80], "labels": false, "domain": false, "tickColor": "#000088", "tickWidth": 1, "tickSize": {"condition": {"test": "abs(datum.value) == 40", "value": -26}, "value": -11}, "title": null}},
                       "y": {"field": "M", "type": "quantitative", "axis": {"orient": "left", "values": [-0.6, -0.55, -0.5, -0.45, -0.4, -0.35, -0.3, -0.25, -0.2, -0.15, -0.1, -0.05, 0, 0.05, 0.1, 0.15, 0.2, 0.25, 0.3, 0.35, 0.4, 0.45, 0.5, 0.55, 0.6], "labels": false, "domain": false, "tickColor": "#000088", "tickWidth": 1, "tickSize": {"condition": {"test": "abs(abs(datum.value) - 0.3) < 0.01", "value": -26}, "value": -11}, "title": null}},
                       "order": {"field": "i", "type": "quantitative"}}},
         {"transform": [{"filter": "datum.s == 'R'"}], "mark": {"type": "point", "shape": "diamond", "filled": false, "size": 170, "color": "#2020c8", "strokeWidth": 1},
          "encoding": {"x": {"field": "H", "type": "quantitative", "axis": null}, "y": {"field": "M", "type": "quantitative", "axis": null}}},
         {"transform": [{"filter": "datum.s == 'R'"}], "mark": {"type": "line", "color": "#0c0cf0", "strokeWidth": 3},
          "encoding": {"x": {"field": "H", "type": "quantitative", "axis": {"orient": "top", "values": [-80, -70, -60, -50, -40, -30, -20, -10, 0, 10, 20, 30, 40, 50, 60, 70, 80], "labels": false, "domain": false, "tickColor": "#000088", "tickWidth": 1, "tickSize": {"condition": {"test": "abs(datum.value) == 40", "value": -26}, "value": -11}, "title": null}},
                       "y": {"field": "M", "type": "quantitative", "axis": {"orient": "right", "values": [-0.6, -0.55, -0.5, -0.45, -0.4, -0.35, -0.3, -0.25, -0.2, -0.15, -0.1, -0.05, 0, 0.05, 0.1, 0.15, 0.2, 0.25, 0.3, 0.35, 0.4, 0.45, 0.5, 0.55, 0.6], "labels": false, "domain": false, "tickColor": "#000088", "tickWidth": 1, "tickSize": {"condition": {"test": "abs(abs(datum.value) - 0.3) < 0.01", "value": -26}, "value": -11}, "title": null}},
                       "order": {"field": "i", "type": "quantitative"}}},
         {"transform": [{"filter": "datum.s == 'L'"}], "mark": {"type": "text", "font": "Liberation Sans", "fontSize": 43, "color": "black", "align": "center", "baseline": "middle"},
          "encoding": {"x": {"field": "H", "type": "quantitative", "axis": null}, "y": {"field": "M", "type": "quantitative", "axis": null}, "text": {"field": "t"}}},
         {"transform": [{"filter": "datum.s == 'W'"}], "mark": {"type": "text", "font": "Liberation Serif", "fontSize": 30, "color": "black", "align": "center", "baseline": "middle"},
          "encoding": {"x": {"field": "H", "type": "quantitative", "axis": null}, "y": {"field": "M", "type": "quantitative", "axis": null}, "text": {"field": "t"}}}
        ],
        "resolve": {"axis": {"x": "independent", "y": "independent"}}
       }
      ]},
      {"spacing": 42, "vconcat": [
       {"width": 300, "height": 300, "data": {"name": "pts"}, "transform": [{"filter": "datum.p == 'b'"}],
        "layer": [
         {"transform": [{"filter": "datum.s == 'E' && datum.i == 1"}], "mark": {"type": "rule", "color": "#000088", "strokeWidth": 1}, "encoding": {"x": {"datum": 0, "type": "quantitative", "axis": null}}},
         {"transform": [{"filter": "datum.s == 'E' && datum.i == 1"}], "mark": {"type": "rule", "color": "#000088", "strokeWidth": 1}, "encoding": {"y": {"datum": 0, "type": "quantitative", "axis": null}}},
         {"transform": [{"filter": "datum.s == 'E'"}], "mark": {"type": "point", "shape": "circle", "filled": false, "size": 230, "color": "#d42020", "strokeWidth": 1},
          "encoding": {"x": {"field": "H", "type": "quantitative", "scale": {"domain": [-80, 80], "nice": false}, "axis": {"orient": "bottom", "values": [-80, -40, 0, 40, 80], "ticks": false, "domain": false, "labelFont": "Liberation Sans", "labelFontSize": 29, "labelColor": "black", "labelPadding": 8, "labelFlush": false, "labelOverlap": false, "labelExpr": "(datum.value < 0 ? '-' : '') + abs(datum.value)", "title": null}},
                       "y": {"field": "M", "type": "quantitative", "scale": {"domain": [-0.6, 0.6], "nice": false, "zero": false}, "axis": {"orient": "left", "values": [-0.6, -0.3, 0, 0.3, 0.6], "ticks": false, "domain": false, "labelFont": "Liberation Sans", "labelFontSize": 29, "labelColor": "black", "labelPadding": 14, "labelFlush": false, "labelOverlap": false, "labelExpr": "datum.value == 0 ? '0' : (datum.value < 0 ? '-' : '') + format(abs(datum.value), '.1f')", "title": null}}}},
         {"transform": [{"filter": "datum.s == 'E'"}], "mark": {"type": "line", "color": "#e00000", "strokeWidth": 2.5},
          "encoding": {"x": {"field": "H", "type": "quantitative", "axis": {"orient": "bottom", "values": [-80, -70, -60, -50, -40, -30, -20, -10, 0, 10, 20, 30, 40, 50, 60, 70, 80], "labels": false, "domain": false, "tickColor": "#000088", "tickWidth": 1, "tickSize": {"condition": {"test": "abs(datum.value) == 40", "value": -26}, "value": -11}, "title": null}},
                       "y": {"field": "M", "type": "quantitative", "axis": {"orient": "left", "values": [-0.6, -0.55, -0.5, -0.45, -0.4, -0.35, -0.3, -0.25, -0.2, -0.15, -0.1, -0.05, 0, 0.05, 0.1, 0.15, 0.2, 0.25, 0.3, 0.35, 0.4, 0.45, 0.5, 0.55, 0.6], "labels": false, "domain": false, "tickColor": "#000088", "tickWidth": 1, "tickSize": {"condition": {"test": "abs(abs(datum.value) - 0.3) < 0.01", "value": -26}, "value": -11}, "title": null}},
                       "order": {"field": "i", "type": "quantitative"}}},
         {"transform": [{"filter": "datum.s == 'R'"}], "mark": {"type": "point", "shape": "diamond", "filled": false, "size": 170, "color": "#2020c8", "strokeWidth": 1},
          "encoding": {"x": {"field": "H", "type": "quantitative", "axis": null}, "y": {"field": "M", "type": "quantitative", "axis": null}}},
         {"transform": [{"filter": "datum.s == 'R'"}], "mark": {"type": "line", "color": "#0c0cf0", "strokeWidth": 3},
          "encoding": {"x": {"field": "H", "type": "quantitative", "axis": {"orient": "top", "values": [-80, -70, -60, -50, -40, -30, -20, -10, 0, 10, 20, 30, 40, 50, 60, 70, 80], "labels": false, "domain": false, "tickColor": "#000088", "tickWidth": 1, "tickSize": {"condition": {"test": "abs(datum.value) == 40", "value": -26}, "value": -11}, "title": null}},
                       "y": {"field": "M", "type": "quantitative", "axis": {"orient": "right", "values": [-0.6, -0.55, -0.5, -0.45, -0.4, -0.35, -0.3, -0.25, -0.2, -0.15, -0.1, -0.05, 0, 0.05, 0.1, 0.15, 0.2, 0.25, 0.3, 0.35, 0.4, 0.45, 0.5, 0.55, 0.6], "labels": false, "domain": false, "tickColor": "#000088", "tickWidth": 1, "tickSize": {"condition": {"test": "abs(abs(datum.value) - 0.3) < 0.01", "value": -26}, "value": -11}, "title": null}},
                       "order": {"field": "i", "type": "quantitative"}}},
         {"transform": [{"filter": "datum.s == 'L'"}], "mark": {"type": "text", "font": "Liberation Sans", "fontSize": 43, "color": "black", "align": "center", "baseline": "middle"},
          "encoding": {"x": {"field": "H", "type": "quantitative", "axis": null}, "y": {"field": "M", "type": "quantitative", "axis": null}, "text": {"field": "t"}}}
        ],
        "resolve": {"axis": {"x": "independent", "y": "independent"}}
       },
       {"width": 300, "height": 300, "data": {"name": "pts"}, "transform": [{"filter": "datum.p == 'd'"}],
        "layer": [
         {"transform": [{"filter": "datum.s == 'E' && datum.i == 1"}], "mark": {"type": "rule", "color": "#000088", "strokeWidth": 1}, "encoding": {"x": {"datum": 0, "type": "quantitative", "axis": null}}},
         {"transform": [{"filter": "datum.s == 'E' && datum.i == 1"}], "mark": {"type": "rule", "color": "#000088", "strokeWidth": 1}, "encoding": {"y": {"datum": 0, "type": "quantitative", "axis": null}}},
         {"transform": [{"filter": "datum.s == 'E'"}], "mark": {"type": "point", "shape": "circle", "filled": false, "size": 230, "color": "#d42020", "strokeWidth": 1},
          "encoding": {"x": {"field": "H", "type": "quantitative", "scale": {"domain": [-80, 80], "nice": false}, "axis": {"orient": "bottom", "values": [-80, -40, 0, 40, 80], "ticks": false, "domain": false, "labelFont": "Liberation Sans", "labelFontSize": 29, "labelColor": "black", "labelPadding": 8, "labelFlush": false, "labelOverlap": false, "labelExpr": "(datum.value < 0 ? '-' : '') + abs(datum.value)", "title": null}},
                       "y": {"field": "M", "type": "quantitative", "scale": {"domain": [-0.6, 0.6], "nice": false, "zero": false}, "axis": {"orient": "left", "values": [-0.6, -0.3, 0, 0.3, 0.6], "ticks": false, "domain": false, "labelFont": "Liberation Sans", "labelFontSize": 29, "labelColor": "black", "labelPadding": 14, "labelFlush": false, "labelOverlap": false, "labelExpr": "datum.value == 0 ? '0' : (datum.value < 0 ? '-' : '') + format(abs(datum.value), '.1f')", "title": null}}}},
         {"transform": [{"filter": "datum.s == 'E'"}], "mark": {"type": "line", "color": "#e00000", "strokeWidth": 2.5},
          "encoding": {"x": {"field": "H", "type": "quantitative", "axis": {"orient": "bottom", "values": [-80, -70, -60, -50, -40, -30, -20, -10, 0, 10, 20, 30, 40, 50, 60, 70, 80], "labels": false, "domain": false, "tickColor": "#000088", "tickWidth": 1, "tickSize": {"condition": {"test": "abs(datum.value) == 40", "value": -26}, "value": -11}, "title": null}},
                       "y": {"field": "M", "type": "quantitative", "axis": {"orient": "left", "values": [-0.6, -0.55, -0.5, -0.45, -0.4, -0.35, -0.3, -0.25, -0.2, -0.15, -0.1, -0.05, 0, 0.05, 0.1, 0.15, 0.2, 0.25, 0.3, 0.35, 0.4, 0.45, 0.5, 0.55, 0.6], "labels": false, "domain": false, "tickColor": "#000088", "tickWidth": 1, "tickSize": {"condition": {"test": "abs(abs(datum.value) - 0.3) < 0.01", "value": -26}, "value": -11}, "title": null}},
                       "order": {"field": "i", "type": "quantitative"}}},
         {"transform": [{"filter": "datum.s == 'R'"}], "mark": {"type": "point", "shape": "diamond", "filled": false, "size": 170, "color": "#2020c8", "strokeWidth": 1},
          "encoding": {"x": {"field": "H", "type": "quantitative", "axis": null}, "y": {"field": "M", "type": "quantitative", "axis": null}}},
         {"transform": [{"filter": "datum.s == 'R'"}], "mark": {"type": "line", "color": "#0c0cf0", "strokeWidth": 3},
          "encoding": {"x": {"field": "H", "type": "quantitative", "axis": {"orient": "top", "values": [-80, -70, -60, -50, -40, -30, -20, -10, 0, 10, 20, 30, 40, 50, 60, 70, 80], "labels": false, "domain": false, "tickColor": "#000088", "tickWidth": 1, "tickSize": {"condition": {"test": "abs(datum.value) == 40", "value": -26}, "value": -11}, "title": null}},
                       "y": {"field": "M", "type": "quantitative", "axis": {"orient": "right", "values": [-0.6, -0.55, -0.5, -0.45, -0.4, -0.35, -0.3, -0.25, -0.2, -0.15, -0.1, -0.05, 0, 0.05, 0.1, 0.15, 0.2, 0.25, 0.3, 0.35, 0.4, 0.45, 0.5, 0.55, 0.6], "labels": false, "domain": false, "tickColor": "#000088", "tickWidth": 1, "tickSize": {"condition": {"test": "abs(abs(datum.value) - 0.3) < 0.01", "value": -26}, "value": -11}, "title": null}},
                       "order": {"field": "i", "type": "quantitative"}}},
         {"transform": [{"filter": "datum.s == 'L'"}], "mark": {"type": "text", "font": "Liberation Sans", "fontSize": 43, "color": "black", "align": "center", "baseline": "middle"},
          "encoding": {"x": {"field": "H", "type": "quantitative", "axis": null}, "y": {"field": "M", "type": "quantitative", "axis": null}, "text": {"field": "t"}}},
         {"transform": [{"filter": "datum.s == 'W'"}], "mark": {"type": "text", "font": "Liberation Serif", "fontSize": 30, "color": "black", "align": "center", "baseline": "middle"},
          "encoding": {"x": {"field": "H", "type": "quantitative", "axis": null}, "y": {"field": "M", "type": "quantitative", "axis": null}, "text": {"field": "t"}}}
        ],
        "resolve": {"axis": {"x": "independent", "y": "independent"}}
       }
      ]}
     ]
    }
   ]
  },
  {
   "width": 35, "height": 918,
   "view": {"stroke": null},
   "data": {"values": [{"v": 0.5}]},
   "mark": {"type": "point", "opacity": 0, "size": 0},
   "encoding": {"y": {"field": "v", "type": "quantitative", "scale": {"domain": [0, 1]}, "axis": {"orient": "right", "domain": true, "domainColor": "black", "domainWidth": 1, "ticks": false, "labels": false, "title": null}}}
  }
 ]
},
{
 "width": 927, "height": 1,
 "view": {"stroke": null},
 "data": {"values": [{"u": 0.5}]},
 "mark": {"type": "point", "opacity": 0, "size": 0},
 "encoding": {"x": {"field": "u", "type": "quantitative", "scale": {"domain": [0, 1]}, "axis": {"orient": "top", "domain": true, "domainColor": "black", "domainWidth": 1, "ticks": false, "labels": false, "title": null}}}
}
]
}
